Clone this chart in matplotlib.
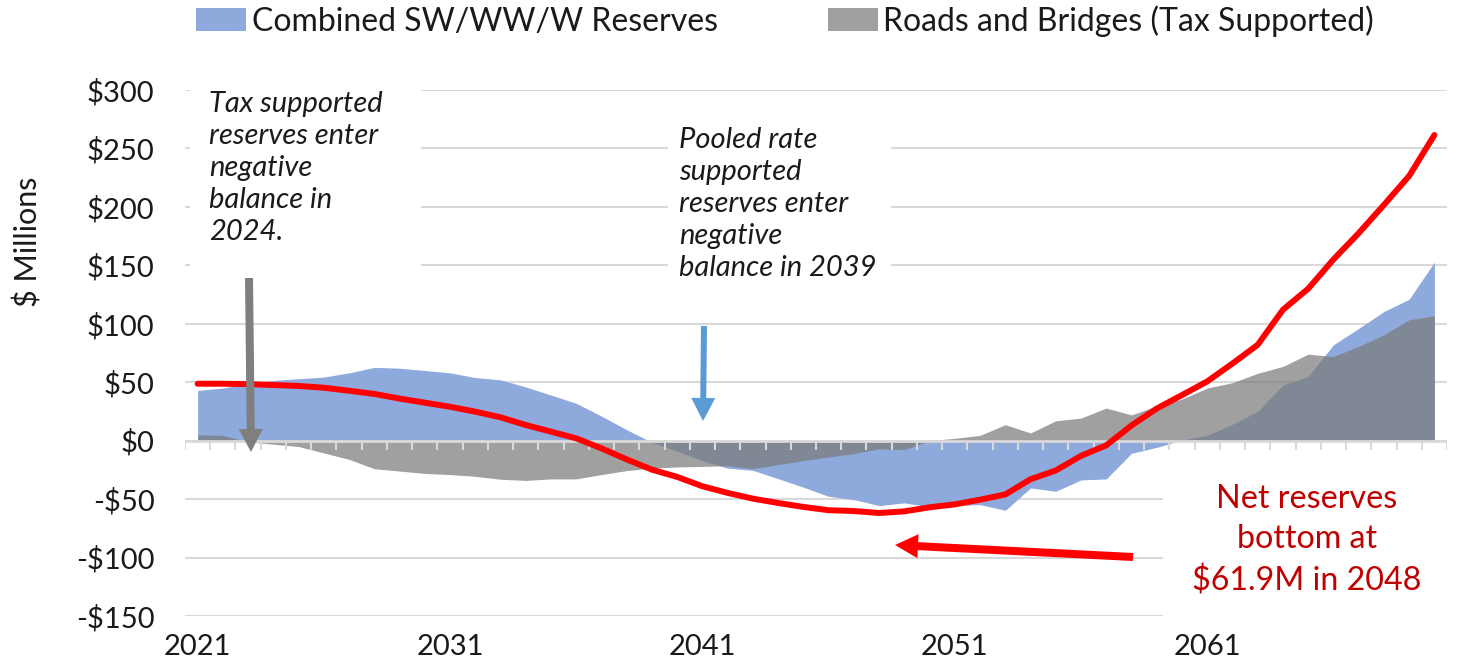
import matplotlib
matplotlib.use('Agg')
import matplotlib.pyplot as plt
from matplotlib.patches import Patch, Rectangle, FancyArrow
from matplotlib.transforms import IdentityTransform
import numpy as np

# ---------------- data ----------------
years = list(range(2021, 2071))
combined_reserves = [43, 45, 49, 51.5, 53, 54.4, 58, 62.7, 62, 60,
                     58, 54, 52, 46, 39, 32, 21, 9.4, -1.5, -9,
                     -17, -23.5, -25.4, -32.5, -39.8, -47.6, -50.4, -55.5, -53.2, -56.7,
                     -55.5, -54.7, -59.6, -40.4, -43.3, -33.6, -32.7, -10.8, -5.7, 0.5,
                     4.5, 14, 25, 47.6, 55, 82, 96, 110.5, 121, 152.7]
roads_bridges = [5, 4.5, -1, -3, -5, -10.5, -16, -24, -26, -28,
                 -29, -30.5, -33, -34, -32.7, -32.7, -29, -25.6, -23.5, -22.5,
                 -22, -21.5, -24, -20.5, -17, -14, -11, -7, -7.7, 0,
                 2, 4.5, 13.7, 6.6, 17, 19.3, 27.9, 22, 29.7, 35.6,
                 45, 49.6, 57.6, 63.5, 74, 72, 80.6, 90.6, 103.4, 106.8]
net_reserves = [48.7, 48.7, 48.4, 47.6, 46.8, 45.3, 42.7, 40, 36, 32.5,
                29, 24.8, 20, 13.4, 7.7, 2, -6.6, -16, -24.8, -31,
                -39, -44.7, -49.6, -53.3, -56.7, -59.5, -60.2, -61.9, -60.5, -57,
                -54.5, -50.5, -46, -33, -25.5, -13, -4, 13, 27.5, 39,
                50.7, 66, 82, 112, 130, 155, 177.5, 201.7, 226.5, 261.5]
series_labels = ['Combined SW/WW/W Reserves', 'Roads and Bridges (Tax Supported)']
x_tick_years = [2021, 2031, 2041, 2051, 2061]
y_ticks = [-150, -100, -50, 0, 50, 100, 150, 200, 250, 300]
y_tick_labels = ['-$150', '-$100', '-$50', '$0', '$50', '$100', '$150', '$200', '$250', '$300']

# ---------------- style ----------------
plt.rcParams['font.family'] = ['Lato', 'DejaVu Sans']
BLUE = '#8EA9DB'
GRAY = '#7B7B7B'
GRAY_ALPHA = 0.72
GRID = '#d9d9d9'
TXT = '#1a1a1a'
W, H = 1462, 664

fig = plt.figure(figsize=(W / 100, H / 100), dpi=100)
ax = fig.add_axes([185 / W, 1 - 616 / H, (1447 - 185) / W, (616 - 90) / H])
ax.set_xlim(2020.5, 2070.5)
ax.set_ylim(-150, 300)
ax.set_yticks(y_ticks)
ax.set_yticklabels(y_tick_labels, fontsize=21, color=TXT)
ax.set_xticks(x_tick_years)
ax.set_xticklabels([str(y) for y in x_tick_years], fontsize=21, color=TXT)
ax.yaxis.grid(True, color=GRID, lw=1.5)
ax.set_axisbelow(True)
for s in ax.spines.values():
    s.set_visible(False)
ax.tick_params(axis='y', length=0, pad=22)
ax.tick_params(axis='x', length=0, pad=13)

# white text-box backgrounds (hide gridlines behind annotations)
def white_box(x0, y0, x1, y1):
    ax.add_patch(Rectangle((x0, H - y1), x1 - x0, y1 - y0, transform=IdentityTransform(),
                           facecolor='white', edgecolor='none', zorder=1))

white_box(190, 80, 421, 276)
white_box(668, 118, 891, 290)
white_box(1163, 470, 1460, 625)

# areas
ax.fill_between(years, 0, combined_reserves, color=BLUE, lw=0, zorder=2)
ax.fill_between(years, 0, roads_bridges, color=GRAY, alpha=GRAY_ALPHA, lw=0, zorder=3)

# horizontal category axis at zero with tick marks between categories
ax.axhline(0, color=GRID, lw=2, zorder=4)
ax.vlines(np.arange(years[0] - 0.5, years[-1] + 1, 1), -7.7, 0, color=GRID, lw=1.5, zorder=4)

# net line
ax.plot(years, net_reserves, color='#FF0000', lw=4.3, zorder=6, solid_capstyle='round')

# y label
fig.text(28 / W, 1 - 242 / H, '$ Millions', rotation=90, fontsize=22, ha='center', va='center',
         color=TXT)

# legend
handles = [Patch(facecolor=BLUE, edgecolor='none'),
           Patch(facecolor=GRAY, alpha=GRAY_ALPHA, edgecolor='none')]
fig.legend(handles, series_labels, loc='center', bbox_to_anchor=(785 / W, 1 - 21 / H), ncol=2,
           frameon=False, fontsize=23, handlelength=1.57, handleheight=0.72, handletextpad=0.16,
           columnspacing=3.45, labelcolor=TXT, borderpad=0, borderaxespad=0)

# annotations
fig.text(209 / W, 1 - 91 / H, 'Tax supported\nreserves enter\nnegative\nbalance in\n2024.',
         style='italic', fontsize=21, ha='left', va='top', linespacing=1.29, color=TXT)
fig.text(679 / W, 1 - 127 / H, 'Pooled rate\nsupported\nreserves enter\nnegative\nbalance in 2039',
         style='italic', fontsize=21, ha='left', va='top', linespacing=1.29, color=TXT)
fig.text(1307 / W, 1 - 484 / H, 'Net reserves\nbottom at\n$61.9M in 2048',
         fontsize=23.2, ha='center', va='top', multialignment='center', linespacing=1.43,
         color='#C00000')

def arrow(x0, y0, x1, y1, color, width):
    fig.add_artist(FancyArrow(x0, H - y0, x1 - x0, (H - y1) - (H - y0), width=width,
                              head_width=24, head_length=23, length_includes_head=True,
                              color=color, lw=0, transform=IdentityTransform()))

arrow(249, 278, 251, 452, '#7F7F7F', 8)
arrow(704, 326, 703, 421, '#5B9BD5', 6)
arrow(1133, 557, 895, 545, '#FF0000', 8)

fig.savefig('out.png', dpi=100)
